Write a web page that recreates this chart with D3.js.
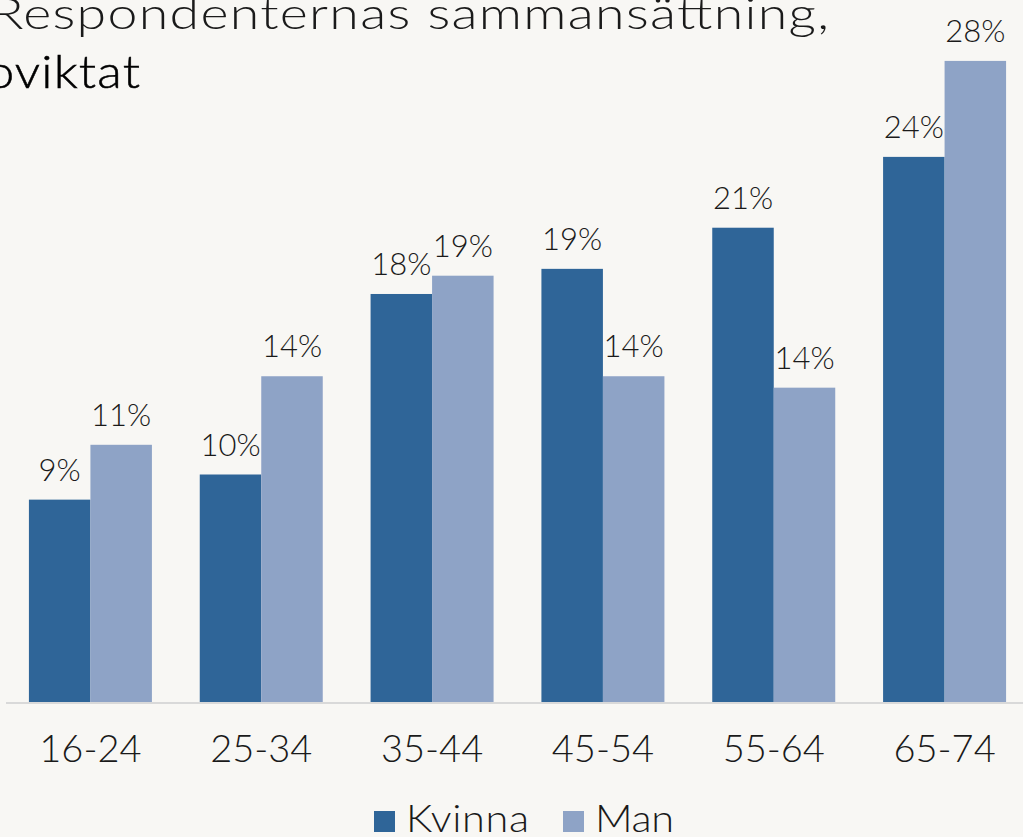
<!DOCTYPE html>
<meta charset="utf-8">
<style>
body { margin: 0; background: #f8f7f4; }
svg { display: block; font-family: Lato, "Open Sans", sans-serif; }
.tick text { fill: #1a1a1a; }
</style>
<svg width="1023" height="837"></svg>
<script src="https://d3js.org/d3.v7.min.js"></script>
<script>

var ageGroups = ["16-24", "25-34", "35-44", "45-54", "55-64", "65-74"];
var seriesNames = ["Kvinna", "Man"];
var kvinna = [8.9, 10.0, 17.9, 19.0, 20.8, 23.9];
var man = [11.3, 14.3, 18.7, 14.3, 13.8, 28.1];
var colors = ["#2f6598", "#8ea3c6"];

var svg = d3.select("svg");
var baseY = 703;

var x0 = d3.scaleBand().domain(ageGroups).range([5, 1030]).paddingInner(0.28).paddingOuter(0.14);
var x1 = d3.scaleBand().domain(seriesNames).range([0, x0.bandwidth()]);
var y = d3.scaleLinear().domain([0, 30]).range([baseY, baseY - 30 * 22.85]);

var rows = ageGroups.map(function(a, i) {
  return {age: a, values: [{s: "Kvinna", v: kvinna[i]}, {s: "Man", v: man[i]}]};
});

// title, cut off like the source (glyphs stretched to mimic the wide original face)
var sx = 1.22, sx2 = 1.1;
svg.append("g").attr("transform", "translate(-9,29) scale(" + sx + ",1)")
  .append("text")
  .attr("font-size", 44).attr("font-weight", 300).attr("fill", "#1a1a1a")
  .attr("textLength", 838 / sx).attr("lengthAdjust", "spacing")
  .text("Respondenternas sammansättning,");
svg.append("g").attr("transform", "translate(-14,88) scale(" + sx2 + ",1)")
  .append("text")
  .attr("font-size", 46).attr("font-weight", 300).attr("fill", "#000")
  .attr("stroke", "#000").attr("stroke-width", 0.5)
  .attr("textLength", 154 / sx2).attr("lengthAdjust", "spacing")
  .text("oviktat");

var groups = svg.append("g").selectAll("g")
  .data(rows).enter().append("g")
  .attr("transform", function(d) { return "translate(" + x0(d.age) + ",0)"; });

groups.selectAll("rect")
  .data(function(d) { return d.values; })
  .enter().append("rect")
  .attr("x", function(d) { return x1(d.s); })
  .attr("y", function(d) { return y(d.v); })
  .attr("width", x1.bandwidth())
  .attr("height", function(d) { return baseY - y(d.v); })
  .attr("fill", function(d, i) { return colors[i]; });

groups.selectAll("text.lbl")
  .data(function(d) { return d.values; })
  .enter().append("text")
  .attr("class", "lbl")
  .attr("x", function(d) { return x1(d.s) + x1.bandwidth() / 2; })
  .attr("y", function(d) { return y(d.v) - 19; })
  .attr("text-anchor", "middle")
  .attr("font-size", 31).attr("font-weight", 300).attr("fill", "#1a1a1a")
  .text(function(d) { return Math.round(d.v) + "%"; });

var xAxis = svg.append("g")
  .attr("transform", "translate(0," + baseY + ")")
  .call(d3.axisBottom(x0).tickSize(0).tickPadding(32).tickSizeOuter(0));
xAxis.select(".domain").attr("stroke", "#d9d9d9").attr("stroke-width", 2)
  .attr("d", "M6,0H1030");
xAxis.selectAll("text").attr("font-size", 38).attr("font-weight", 300)
  .attr("font-family", "Lato, sans-serif");

// legend
var legend = svg.append("g");
var legX = [374, 563];
var legW = [123, 79];
var lsx = 1.12;
seriesNames.forEach(function(s, i) {
  legend.append("rect").attr("x", legX[i]).attr("y", 811).attr("width", 21).attr("height", 21)
    .attr("fill", colors[i]);
  legend.append("g").attr("transform", "translate(" + (legX[i] + 32) + ",832) scale(" + lsx + ",1)")
    .append("text")
    .attr("font-size", 37).attr("font-weight", 300).attr("fill", "#1a1a1a")
    .attr("textLength", legW[i] / lsx).attr("lengthAdjust", "spacing")
    .text(s);
});

</script>
